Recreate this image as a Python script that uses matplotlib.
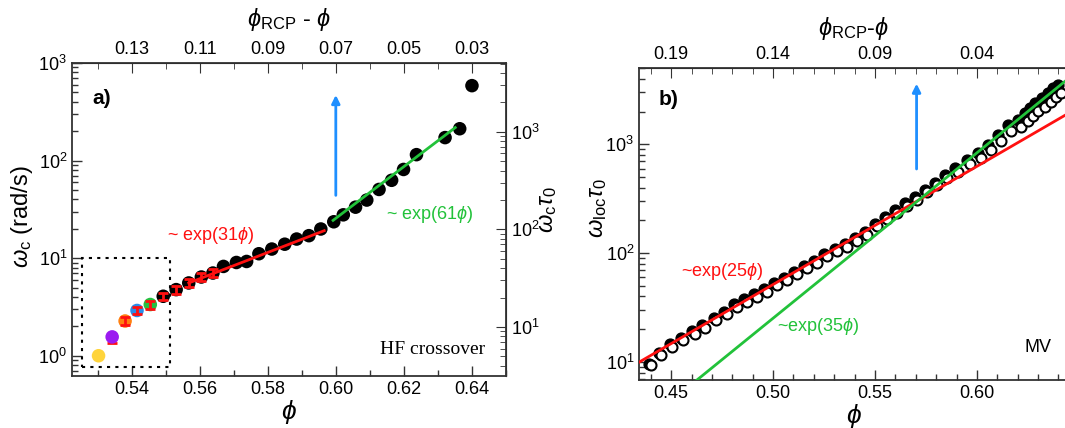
import numpy as np
import matplotlib
matplotlib.use("Agg")
import matplotlib.pyplot as plt
from matplotlib.patches import Rectangle

plt.rcParams["font.family"] = ["Liberation Sans", "DejaVu Sans"]
plt.rcParams["mathtext.fontset"] = "custom"
plt.rcParams["mathtext.rm"] = "Liberation Sans"
plt.rcParams["mathtext.it"] = "Liberation Sans:italic"
plt.rcParams["mathtext.bf"] = "Liberation Sans:bold"

# --- panel a : crossover frequency vs packing fraction ---
phi_a = [0.5303, 0.5343, 0.5381, 0.5416, 0.5455, 0.5493, 0.5531, 0.5568,
         0.5605, 0.5639, 0.5670, 0.5708, 0.5738, 0.5774, 0.5812, 0.5850,
         0.5885, 0.5921, 0.5956, 0.5994, 0.6022, 0.6058, 0.6091, 0.6127,
         0.6164, 0.6199, 0.6237, 0.6321, 0.6364, 0.6400]
omega_a = [1.0, 1.56, 2.27, 2.91, 3.35, 4.07, 4.76, 5.57, 6.41, 7.04,
           8.23, 9.03, 9.25, 11.1, 12.4, 13.9, 15.7, 17.0, 19.9, 23.6,
           27.8, 33.3, 39.4, 50.6, 62.8, 81.1, 115, 172, 212, 586]
colors_a = ["#FFD43B", "#9B1AF0", "#FF8010", "#2A8CE8", "#25C040"] + ["black"] * 25
err_idx = [2, 3, 4, 5, 6, 7, 8, 9]
rel_err = 0.09

phi_rcp_a = 0.67
tau0 = 5.07

fit_a_slow = (31, 0.5568, 0.5966, 5.57)    # rate, phi start, phi end, value at start
fit_a_fast = (61, 0.5992, 0.6351, 24.4)

# --- panel b : local relaxation rate ---
phi_b = [0.4390, 0.4439, 0.4493, 0.4546, 0.4603, 0.4653, 0.4710, 0.4760,
         0.4809, 0.4858, 0.4907, 0.4957, 0.5006, 0.5055, 0.5105, 0.5154,
         0.5203, 0.5252, 0.5302, 0.5351, 0.5400, 0.5450, 0.5499, 0.5549,
         0.5598, 0.5647, 0.5696, 0.5745, 0.5794, 0.5843, 0.5893, 0.5950,
         0.6007, 0.6056, 0.6105, 0.6154, 0.6203, 0.6236, 0.6261, 0.6285,
         0.6318, 0.6350, 0.6375, 0.6399]
wloc_full = [9.66, 12.1, 14.5, 16.7, 19.2, 21.8, 25.5, 29.0, 33.8, 37.6,
             41.9, 46.6, 53.6, 59.6, 67.8, 76.4, 84.9, 99.3, 109, 121,
             137, 155, 185, 216, 249, 288, 327, 381, 445, 524,
             603, 719, 828, 986, 1219, 1507, 1675, 1932, 2148, 2388,
             2655, 2951, 3281, 3516]
phi_b_open = [0.4402, 0.4451, 0.4505, 0.4558, 0.4615, 0.4665, 0.4722, 0.4772,
              0.4821, 0.4870, 0.4919, 0.4969, 0.5018, 0.5067, 0.5117, 0.5166,
              0.5215, 0.5264, 0.5314, 0.5363, 0.5412, 0.5462, 0.5511, 0.5561,
              0.5610, 0.5659, 0.5708, 0.5757, 0.5806, 0.5855, 0.5907, 0.5964,
              0.6021, 0.6070, 0.6119, 0.6168, 0.6217, 0.6250, 0.6275, 0.6299,
              0.6332, 0.6364, 0.6389, 0.6413]
wloc_open = [9.3, 11.5, 13.8, 15.9, 18.2, 20.7, 24.2, 27.5, 32.1, 35.7,
             39.8, 44.3, 50.9, 56.6, 64.4, 72.6, 80.7, 94.3, 104, 115,
             130, 147, 176, 205, 236, 273, 310, 362, 420, 490,
             560, 660, 755, 890, 1080, 1320, 1450, 1650, 1820, 2010,
             2220, 2450, 2720, 2950]

phi_rcp_b = 0.64
fit_b_slow = (25, 0.4344, 10.0)   # rate, reference phi, value at reference
fit_b_fast = (35, 0.5893, 575.0)

RED = "#FF1010"
GREEN = "#22C23A"
BLUE = "#1E8FFF"
SPINE = "#333333"

fig = plt.figure(figsize=(10.65, 4.28), dpi=100)
ax1 = fig.add_axes([72 / 1065, 1 - 376 / 428, 434 / 1065, 313 / 428])
ax2 = fig.add_axes([639 / 1065, 1 - 380 / 428, 429 / 1065, 312 / 428])


def style(ax):
    for s in ax.spines.values():
        s.set_color(SPINE)
        s.set_linewidth(1.3)
    ax.tick_params(which="both", direction="in", colors=SPINE, labelsize=13,
                   labelcolor="black", width=1.0)
    ax.tick_params(which="major", length=7)
    ax.tick_params(which="minor", length=4)


# panel a
ax1.set_yscale("log")
ax1.set_xlim(0.5225, 0.650)
ax1.set_ylim(0.62, 1000)
style(ax1)
ax1.tick_params(right=False, top=False)
ax1.set_xticks(np.arange(0.54, 0.6401, 0.02))
ax1.set_xticks(np.arange(0.53, 0.6501, 0.01), minor=True)
ax1.set_xticklabels([f"{v:.2f}" for v in np.arange(0.54, 0.6401, 0.02)])

for i in err_idx:
    ax1.errorbar(phi_a[i], omega_a[i], yerr=rel_err * omega_a[i], fmt="none",
                 ecolor=RED, elinewidth=2, capsize=3.5, capthick=2, zorder=5)
ax1.errorbar(phi_a[1], omega_a[1], yerr=[[0.14 * omega_a[1]], [0.0]], fmt="none",
             ecolor=RED, elinewidth=2, capsize=3.5, capthick=2, zorder=3)
ax1.scatter(phi_a, omega_a, s=95, c=colors_a, edgecolors="none", zorder=4)

k, p0, p1, w0 = fit_a_slow
pp = np.linspace(p0, p1, 50)
ax1.plot(pp, w0 * np.exp(k * (pp - p0)), color=RED, lw=2, zorder=6)
k, p0, p1, w0 = fit_a_fast
pp = np.linspace(p0, p1, 50)
ax1.plot(pp, w0 * np.exp(k * (pp - p0)), color=GREEN, lw=2, zorder=6)

ax1.annotate("", xy=(0.600, 470), xytext=(0.600, 44),
             arrowprops=dict(arrowstyle="-|>", color=BLUE, lw=2,
                             mutation_scale=12, shrinkA=0, shrinkB=0))
ax1.add_patch(Rectangle((0.5255, 0.77), 0.5514 - 0.5255, 10 - 0.77,
                        fill=False, ls=(0, (1.5, 2.5)), lw=1.5, ec="black", zorder=2))

ax1.text(0.048, 0.885, "a)", transform=ax1.transAxes, fontsize=15,
         fontweight="bold", va="center")
ax1.text(0.5504, 16.9, r"~ exp(31$\it{\phi}$)", color=RED, fontsize=13, va="center")
ax1.text(0.6148, 27.8, r"~ exp(61$\it{\phi}$)", color=GREEN, fontsize=13, va="center")
ax1.text(0.6439, 1.15, "HF crossover", family=["Liberation Serif"], fontsize=14,
         ha="right", va="center")

ax1.set_xlabel(r"$\phi$", fontsize=19, labelpad=0)
ax1.set_ylabel(r"$\omega_{\rm c}$ (rad/s)", fontsize=17)
ax1.yaxis.set_label_coords(-0.085, 0.51)

top1 = ax1.secondary_xaxis("top", functions=(lambda p: phi_rcp_a - p,
                                              lambda d: phi_rcp_a - d))
top1.set_xticks([0.13, 0.11, 0.09, 0.07, 0.05, 0.03])
top1.set_xticklabels(["0.13", "0.11", "0.09", "0.07", "0.05", "0.03"])
top1.set_xticks(np.arange(0.02, 0.1451, 0.01), minor=True)
top1.tick_params(which="both", direction="in", colors=SPINE, labelsize=13,
                 labelcolor="black")
top1.tick_params(which="major", length=7)
top1.tick_params(which="minor", length=4)
top1.set_xlabel(r"$\phi_{\rm RCP}$ - $\phi$", fontsize=17, labelpad=11)

right1 = ax1.secondary_yaxis("right", functions=(lambda w: w * tau0,
                                                 lambda w: w / tau0))
right1.tick_params(which="both", direction="in", colors=SPINE, labelsize=13,
                   labelcolor="black")
right1.tick_params(which="major", length=7)
right1.tick_params(which="minor", length=4)

# label for the tau0-scaled axis, placed beside its tick labels
fig.text(548 / 1065, 1 - 210 / 428, r"$\omega_{\rm c}\tau_0$", fontsize=17,
         rotation=90, ha="center", va="center")

# panel b
ax2.set_yscale("log")
ax2.set_xlim(0.4342, 0.6447)
ax2.set_ylim(6.83, 5035)
style(ax2)
ax2.tick_params(top=False)
ax2.spines["right"].set_visible(False)
ax2.set_xticks([0.45, 0.50, 0.55, 0.60])
ax2.set_xticklabels(["0.45", "0.50", "0.55", "0.60"])
ax2.set_xticks(np.arange(0.44, 0.6451, 0.01), minor=True)

ax2.plot(phi_b, wloc_full, "o", ms=7.8, mfc="black", mec="black", zorder=3)
ax2.plot(phi_b_open, wloc_open, "o", ms=7.2, mfc="white", mec="black",
         mew=1.5, zorder=4)

pp = np.linspace(0.4342, 0.6447, 200)
k, p0, w0 = fit_b_slow
ax2.plot(pp, w0 * np.exp(k * (pp - p0)), color=RED, lw=2, zorder=5)
k, p0, w0 = fit_b_fast
ax2.plot(pp, w0 * np.exp(k * (pp - p0)), color=GREEN, lw=2, zorder=5)

ax2.annotate("", xy=(0.5704, 3614), xytext=(0.5704, 594),
             arrowprops=dict(arrowstyle="-|>", color=BLUE, lw=2,
                             mutation_scale=12, shrinkA=0, shrinkB=0))

ax2.text(0.046, 0.90, "b)", transform=ax2.transAxes, fontsize=15,
         fontweight="bold", va="center")
ax2.text(0.4546, 68.5, r"~exp(25$\it{\phi}$)", color=RED, fontsize=13, va="center")
ax2.text(0.5019, 21.3, r"~exp(35$\it{\phi}$)", color=GREEN, fontsize=13, va="center")
ax2.text(0.6368, 13.5, "MV", fontsize=13, ha="right", va="center")

ax2.set_xlabel(r"$\phi$", fontsize=19, labelpad=0)
ax2.set_ylabel(r"$\omega_{\rm loc}\tau_0$", fontsize=17)
ax2.yaxis.set_label_coords(-0.07, 0.55)

top2 = ax2.secondary_xaxis("top", functions=(lambda p: phi_rcp_b - p,
                                              lambda d: phi_rcp_b - d))
top2.set_xticks([0.19, 0.14, 0.09, 0.04])
top2.set_xticklabels(["0.19", "0.14", "0.09", "0.04"])
top2.set_xticks(np.arange(-0.01, 0.2051, 0.01), minor=True)
top2.tick_params(which="both", direction="in", colors=SPINE, labelsize=13,
                 labelcolor="black")
top2.tick_params(which="major", length=7)
top2.tick_params(which="minor", length=4)
top2.set_xlabel(r"$\phi_{\rm RCP}$-$\phi$", fontsize=17, labelpad=8)

fig.savefig("out.png", dpi=100)
